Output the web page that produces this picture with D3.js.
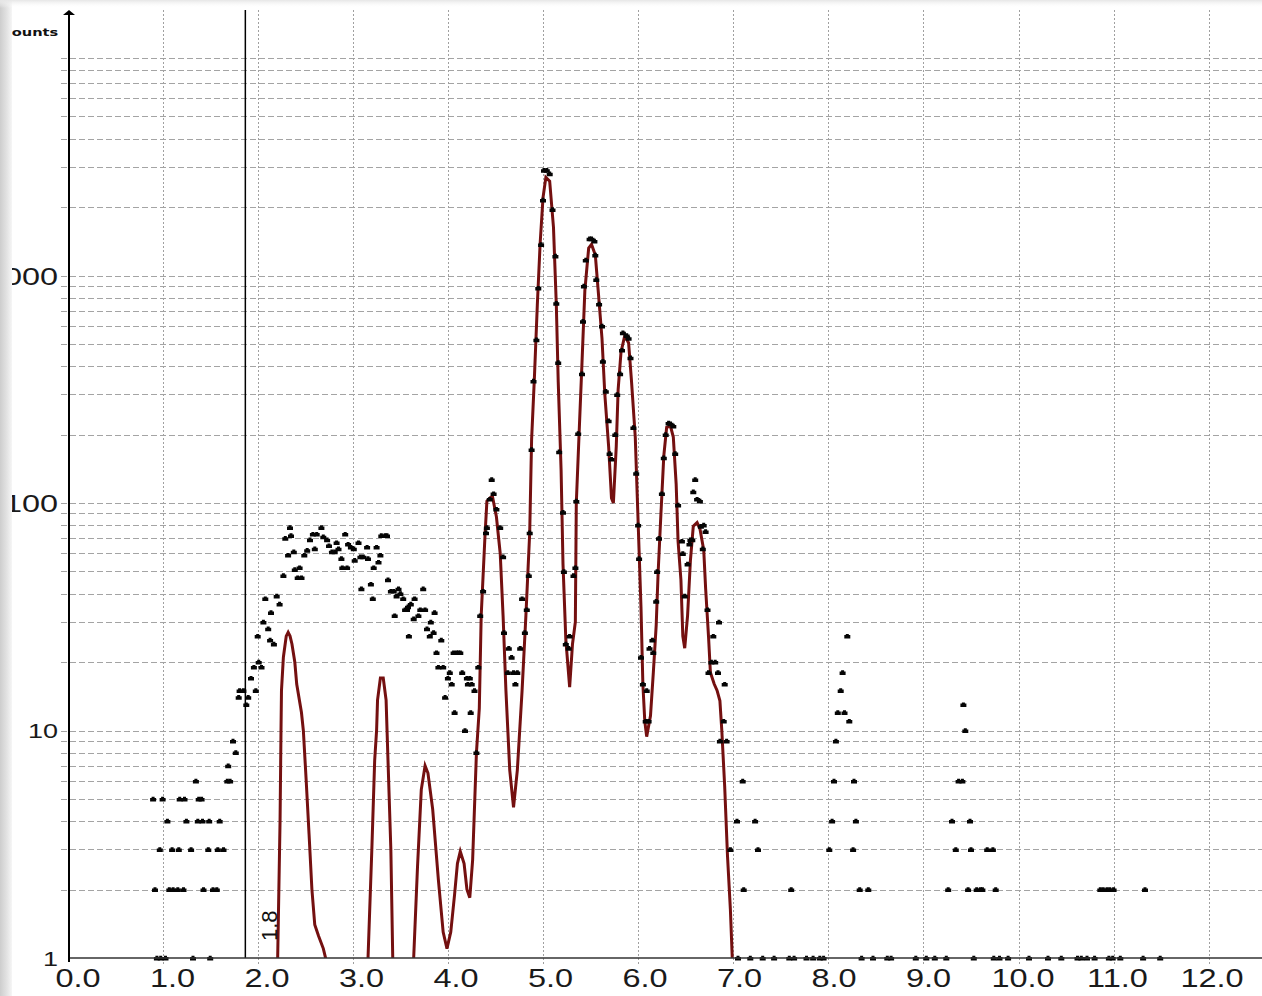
<!DOCTYPE html>
<html>
<head>
<meta charset="utf-8">
<script src="https://cdn.jsdelivr.net/npm/d3@7"></script>
<style>
  html, body { margin: 0; padding: 0; background: #fff; overflow: hidden; }
  svg { display: block; }
</style>
</head>
<body>
<svg id="chart" width="1262" height="996"></svg>
<script>
// Measured spectrum: [energy keV, counts] per channel (empty channels omitted)
const measured = [
  [0.90,5],[0.92,2],[0.94,1],[0.97,3],[0.98,1],[1.00,5],[1.03,1],[1.05,4],[1.07,2],[1.10,3],
  [1.11,2],[1.16,2],[1.17,3],[1.18,5],[1.22,2],[1.23,5],[1.25,4],[1.30,3],[1.32,1],[1.35,6],
  [1.37,4],[1.38,5],[1.41,5],[1.42,4],[1.43,2],[1.48,3],[1.49,4],[1.50,1],[1.53,2],[1.57,2],
  [1.58,3],[1.60,4],[1.64,3],[1.68,6],[1.69,7],[1.71,6],[1.74,9],[1.77,8],
  [1.80,14],[1.81,15],[1.85,15],[1.88,13],[1.90,14],[1.93,17],[1.96,19],[1.98,15],[2.00,26],[2.01,20],
  [2.04,19],[2.06,30],[2.08,38],[2.11,28],[2.13,25],[2.14,33],[2.17,24],[2.20,39],[2.23,36],[2.27,48],
  [2.29,70],[2.32,59],[2.34,78],[2.35,72],[2.38,61],[2.39,51],[2.42,47],[2.44,52],[2.46,47],[2.49,59],
  [2.52,62],[2.55,69],[2.58,73],[2.60,63],[2.62,73],[2.67,78],[2.69,71],[2.73,69],[2.75,65],[2.78,61],
  [2.81,61],[2.83,67],[2.85,63],[2.88,57],[2.89,52],[2.92,73],[2.94,52],[2.95,66],[2.98,64],[3.01,63],
  [3.02,56],[3.06,67],[3.08,58],[3.09,42],[3.11,58],[3.15,64],[3.16,57],[3.19,44],[3.21,38],[3.22,52],
  [3.25,64],[3.27,55],[3.29,59],[3.30,72],[3.34,72],[3.36,72],[3.37,46],[3.40,41],[3.43,41],[3.44,32],
  [3.46,39],[3.48,42],[3.50,40],[3.53,38],[3.55,34],[3.57,34],[3.58,35],[3.59,26],[3.61,36],[3.64,31],
  [3.65,38],[3.69,32],[3.71,34],[3.74,42],[3.76,34],[3.78,28],[3.81,26],[3.82,30],[3.85,27],[3.86,33],
  [3.88,22],[3.90,19],[3.93,25],[3.95,19],[3.97,14],[4.00,17],[4.02,18],[4.04,16],[4.06,22],[4.07,12],
  [4.09,22],[4.11,22],[4.13,22],[4.15,18],[4.18,10],[4.20,17],[4.21,16],[4.23,17],[4.24,12],[4.25,16],
  [4.28,15],[4.30,8],[4.32,19],[4.34,32],[4.37,41],[4.40,74],[4.41,78],[4.44,104],[4.46,127],[4.48,110],
  [4.51,94],[4.55,78],[4.58,58],[4.59,27],[4.63,18],[4.64,23],[4.67,21],[4.69,18],[4.71,16],[4.73,18],
  [4.76,23],[4.78,38],[4.81,27],[4.83,34],[4.85,48],[4.86,74],[4.88,172],[4.90,344],[4.93,522],[4.95,880],
  [4.98,1370],[5.00,2150],[5.01,2900],[5.04,2900],[5.07,2800],[5.10,1950],[5.13,1220],[5.14,755],[5.16,415],[5.17,168],
  [5.21,91],[5.22,50],[5.24,24],[5.27,23],[5.28,26],[5.32,48],[5.34,52],[5.35,102],[5.37,202],[5.41,370],
  [5.42,630],[5.43,900],[5.45,1170],[5.49,1450],[5.51,1450],[5.54,1420],[5.55,1230],[5.56,960],[5.59,750],[5.62,600],
  [5.63,420],[5.66,310],[5.69,230],[5.70,165],[5.72,156],[5.76,200],[5.78,300],[5.81,370],[5.83,470],[5.84,560],
  [5.88,545],[5.90,530],[5.92,435],[5.95,215],[5.98,135],[6.00,80],[6.01,57],[6.03,21],[6.05,16],[6.08,11],
  [6.09,15],[6.11,11],[6.12,23],[6.15,25],[6.16,22],[6.19,37],[6.20,50],[6.22,70],[6.25,110],[6.27,158],
  [6.29,200],[6.32,225],[6.34,223],[6.37,218],[6.39,165],[6.42,98],[6.46,68],[6.47,60],[6.49,39],[6.52,54],
  [6.54,66],[6.55,69],[6.57,69],[6.58,112],[6.60,127],[6.62,104],[6.65,102],[6.66,79],[6.68,63],[6.69,80],
  [6.71,75],[6.73,34],[6.74,18],[6.77,20],[6.79,26],[6.81,20],[6.84,18],[6.85,30],[6.86,9],[6.90,11],
  [6.91,16],[6.93,9],[6.97,3],[7.04,4],[7.05,1],[7.10,6],[7.11,2],[7.18,1],[7.23,4],[7.26,3],
  [7.31,1],[7.43,1],[7.59,1],[7.61,2],[7.64,1],[7.77,1],[7.84,1],[7.91,1],[7.95,1],[8.01,3],
  [8.04,4],[8.06,6],[8.08,9],[8.10,12],[8.13,15],[8.15,18],[8.17,12],[8.20,26],[8.22,11],[8.26,3],
  [8.27,6],[8.29,4],[8.33,2],[8.35,1],[8.42,2],[8.47,1],[8.62,1],[8.66,1],[8.92,1],[9.03,1],
  [9.12,1],[9.24,1],[9.26,2],[9.30,4],[9.34,3],[9.37,6],[9.41,6],[9.42,13],[9.44,10],[9.47,2],
  [9.49,4],[9.50,3],[9.53,1],[9.56,2],[9.60,2],[9.62,2],[9.67,3],[9.73,3],[9.74,1],[9.76,2],
  [9.80,1],[9.89,1],[10.11,1],[10.31,1],[10.45,1],[10.62,1],[10.66,1],[10.72,1],[10.80,1],[10.86,2],
  [10.89,2],[10.93,2],[10.95,1],[10.96,2],[10.99,1],[11.00,2],[11.07,1],[11.31,1],[11.33,2],[11.49,1]
];

// Fitted spectrum: [energy keV, counts]; values below 1 fall under the axis and are clipped
const fitted = [
  [2.19,0.3],[2.21,1.0],[2.235,4],[2.245,10],[2.25,15],[2.27,21],[2.30,26],[2.32,27],[2.34,26],[2.36,24],
  [2.39,20],[2.41,16],[2.46,12],[2.48,10],[2.51,6],[2.54,3.5],[2.57,2],[2.60,1.4],[2.64,1.25],[2.69,1.1],
  [2.74,0.9],[2.77,0.3],[3.14,0.3],[3.16,1],[3.20,3],[3.23,7.4],[3.25,10],[3.26,13.6],[3.29,17],[3.32,17],
  [3.35,13.6],[3.36,10],[3.37,7.4],[3.40,3],[3.42,1],[3.44,0.3],[3.62,0.3],[3.64,1],[3.68,2.5],[3.72,5.5],
  [3.76,7],[3.79,6.5],[3.84,4.5],[3.90,2.2],[3.95,1.3],[3.99,1.1],[4.03,1.3],[4.07,1.9],[4.10,2.6],[4.13,2.94],
  [4.17,2.6],[4.20,2.0],[4.23,1.84],[4.26,2.7],[4.30,8],[4.33,12.5],[4.35,32],[4.39,72],[4.41,102],[4.45,106],
  [4.47,106],[4.51,87],[4.55,60],[4.58,32],[4.61,15],[4.65,6.7],[4.69,4.6],[4.73,6.7],[4.78,15],[4.82,32],
  [4.86,74],[4.88,190],[4.91,360],[4.94,740],[4.97,1390],[5.00,2200],[5.03,2700],[5.07,2600],[5.11,1630],[5.14,740],
  [5.16,340],[5.19,140],[5.21,54],[5.24,25],[5.28,15.5],[5.31,24],[5.34,30],[5.35,100],[5.38,205],[5.41,415],
  [5.44,860],[5.48,1320],[5.51,1370],[5.55,1230],[5.58,860],[5.62,530],[5.65,300],[5.69,177],[5.72,105],[5.74,100],
  [5.77,177],[5.79,315],[5.82,460],[5.86,545],[5.90,505],[5.93,345],[5.97,195],[5.99,110],[6.01,62],[6.03,35],
  [6.05,16],[6.07,11],[6.09,9.4],[6.13,11.6],[6.16,18],[6.19,29],[6.21,49],[6.24,90],[6.27,161],[6.30,215],
  [6.34,218],[6.37,195],[6.40,121],[6.42,68],[6.45,46],[6.47,26],[6.49,23],[6.52,32],[6.55,56],[6.58,79],
  [6.62,82],[6.65,77],[6.69,62],[6.71,42],[6.74,26],[6.76,18],[6.80,16],[6.83,15],[6.86,13.5],[6.88,10],
  [6.91,5.7],[6.94,2.8],[6.97,1.64],[6.99,1.0],[7.01,0.3]
];

const xTickValues = [0,1,2,3,4,5,6,7,8,9,10,11,12];
const yLabelValues = [1,10,100,1000];
const yTitle = "Counts";
const cursorEnergy = 1.87;   // marker line position (keV)

const svg = d3.select("#chart");
const W = 1262, H = 996;

const x = d3.scaleLinear().domain([0, 12.56]).range([67.5, W]);
const y = d3.scaleLog().domain([1, 10000]).range([958, 48]);
const yTop = 10;
const xAxisX = 69;

// Clip region for the plot area
svg.append("defs").append("clipPath").attr("id", "plotClip")
  .append("rect").attr("x", xAxisX).attr("y", 0).attr("width", W - xAxisX).attr("height", y(1));

// Horizontal dashed gridlines at every log tick
const gridY = y.ticks().filter(v => v > 1 && v < 10000);
svg.append("g").selectAll("line").data(gridY).join("line")
  .attr("x1", 61).attr("x2", W)
  .attr("y1", d => Math.round(y(d)) + 0.5).attr("y2", d => Math.round(y(d)) + 0.5)
  .attr("stroke", "#a4a4a4").attr("stroke-width", 1)
  .attr("stroke-dasharray", "6,3");

// Vertical dotted gridlines
svg.append("g").selectAll("line").data(xTickValues.filter(d => d > 0)).join("line")
  .attr("x1", d => Math.round(x(d)) + 0.5).attr("x2", d => Math.round(x(d)) + 0.5)
  .attr("y1", yTop).attr("y2", y(1) + 6)
  .attr("stroke", "#a0a0a0").attr("stroke-width", 1)
  .attr("stroke-dasharray", "2,2");

// Fitted curve
const line = d3.line().x(d => x(d[0])).y(d => y(d[1]));
svg.append("path").datum(fitted)
  .attr("clip-path", "url(#plotClip)")
  .attr("d", line)
  .attr("fill", "none")
  .attr("stroke", "#741010")
  .attr("stroke-width", 3)
  .attr("stroke-linejoin", "miter");

// Measured channel markers
svg.append("g").selectAll("path").data(measured).join("path")
  .attr("transform", d => `translate(${x(d[0]).toFixed(1)},${y(d[1]).toFixed(1)})`)
  .attr("d", "M-3,2.5h6v-3.5h-1.5v-1.2h-3v1.2h-1.5z")
  .attr("fill", "#050505");

// Marker line with its value
svg.append("line")
  .attr("x1", x(cursorEnergy)).attr("x2", x(cursorEnergy))
  .attr("y1", yTop).attr("y2", y(1))
  .attr("stroke", "#000").attr("stroke-width", 1.5);
svg.append("text")
  .attr("transform", `translate(${x(cursorEnergy) + 32},${y(1) - 17}) rotate(-90)`)
  .attr("font-family", "Liberation Sans, Arial, sans-serif")
  .attr("font-size", 22).attr("fill", "#111")
  .text((Math.floor(cursorEnergy * 10) / 10).toFixed(1));

// X axis
const xAxis = svg.append("g").attr("transform", `translate(0,${y(1)})`)
  .call(d3.axisBottom(x).tickValues(xTickValues).tickFormat(d3.format(".1f")).tickSize(0).tickPadding(0));
xAxis.select(".domain").remove();
xAxis.selectAll("text")
  .attr("y", 0).attr("dy", 0)
  .attr("transform", d => `translate(${10 - 0.6 * d},29) scale(1.25,1)`)
  .attr("font-family", "Liberation Sans, Arial, sans-serif")
  .attr("font-size", 26).attr("fill", "#1a1a1a");
svg.append("line").attr("x1", xAxisX).attr("x2", W)
  .attr("y1", y(1)).attr("y2", y(1))
  .attr("stroke", "#333").attr("stroke-width", 1.6);

// Y axis
const yAxis = svg.append("g").attr("transform", "translate(58,0)")
  .call(d3.axisLeft(y).tickValues(yLabelValues).tickFormat(d3.format("d")).tickSize(0).tickPadding(0));
yAxis.select(".domain").remove();
yAxis.selectAll("text")
  .attr("x", 0).attr("dy", 0)
  .attr("transform", d => `translate(0,${d >= 100 ? 8.5 : 7}) scale(1.35,1)`)
  .attr("text-anchor", "end")
  .attr("font-family", "Liberation Sans, Arial, sans-serif")
  .attr("font-size", d => d >= 100 ? 24 : 20)
  .attr("fill", "#1a1a1a");
svg.append("line").attr("x1", xAxisX).attr("x2", xAxisX)
  .attr("y1", yTop + 3).attr("y2", y(1) + 4)
  .attr("stroke", "#000").attr("stroke-width", 2);
svg.append("path")
  .attr("d", `M${xAxisX - 6},${yTop + 5}L${xAxisX},${yTop}L${xAxisX + 6},${yTop + 5}Z`)
  .attr("fill", "#000");

// Axis title
svg.append("text")
  .attr("transform", "translate(1,36) scale(1.33,1)")
  .attr("font-family", "DejaVu Sans, Verdana, sans-serif")
  .attr("font-weight", "bold").attr("font-size", 11).attr("fill", "#111")
  .text(yTitle);

// Soft page edge along the left and top borders
const defs = svg.select("defs");
const gl = defs.append("linearGradient").attr("id", "edgeL").attr("x1", 0).attr("x2", 1).attr("y1", 0).attr("y2", 0);
gl.append("stop").attr("offset", 0).attr("stop-color", "#cdcdcd");
gl.append("stop").attr("offset", 0.6).attr("stop-color", "#e4e4e4");
gl.append("stop").attr("offset", 1).attr("stop-color", "#f6f6f6");
svg.append("rect").attr("x", 0).attr("y", 0).attr("width", 12).attr("height", H).attr("fill", "url(#edgeL)");
const gt = defs.append("linearGradient").attr("id", "edgeT").attr("x1", 0).attr("x2", 0).attr("y1", 0).attr("y2", 1);
gt.append("stop").attr("offset", 0).attr("stop-color", "#e6e6e6");
gt.append("stop").attr("offset", 1).attr("stop-color", "#ffffff").attr("stop-opacity", 0);
svg.append("rect").attr("x", 0).attr("y", 0).attr("width", W).attr("height", 8).attr("fill", "url(#edgeT)");
</script>
</body>
</html>
